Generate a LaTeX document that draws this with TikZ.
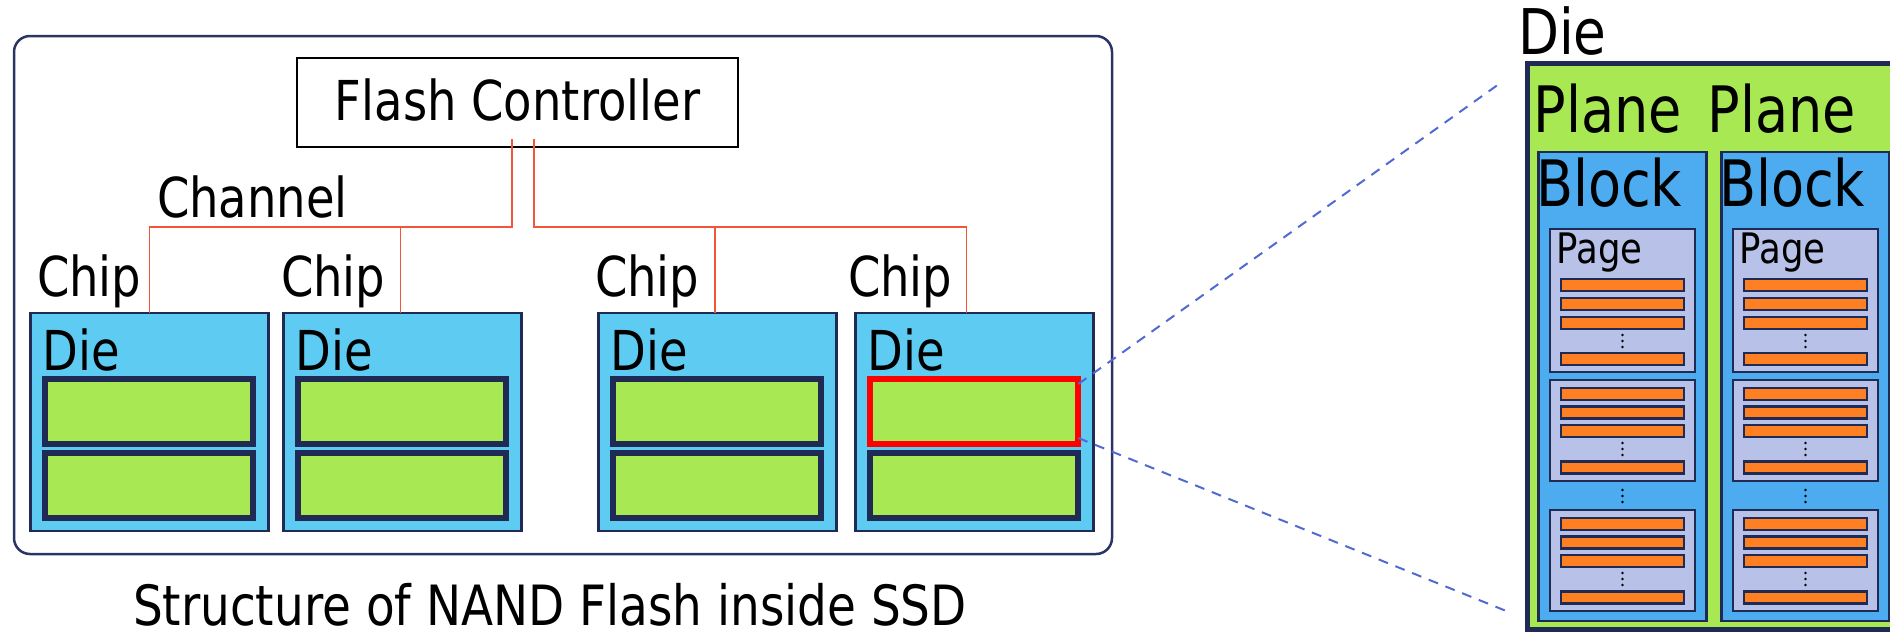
\documentclass[tikz,border=0pt]{standalone}
\usepackage{fontspec}
\setmainfont{DejaVu Sans}[FakeStretch=0.845]

\definecolor{navy}{HTML}{1F2A55}
\definecolor{framenavy}{HTML}{2A3563}
\definecolor{chipblue}{HTML}{5ECBF2}
\definecolor{diegreen}{HTML}{A8E853}
\definecolor{blockblue}{HTML}{4DABF0}
\definecolor{pagelav}{HTML}{B8C2E8}
\definecolor{cellorange}{HTML}{FF8022}
\definecolor{chanred}{HTML}{F2553A}
\definecolor{zoomblue}{HTML}{4F6BD3}

\tikzset{
  lbl/.style={anchor=base west, inner sep=0pt, outer sep=0pt, font=\fontsize{55}{66}\selectfont},
  biglbl/.style={lbl, font=\fontsize{64}{76}\selectfont},
  smalllbl/.style={lbl, font=\fontsize{42}{50}\selectfont},
  rect/.style={rectangle, inner sep=0pt, outer sep=0pt, anchor=north west},
  frame/.style={rect, draw=framenavy, line width=2.5pt, rounded corners=16pt},
  ctrl/.style={rectangle, draw=black, line width=2pt, inner sep=0pt, outer sep=0pt,
    minimum width=441pt, minimum height=89pt, text height=36pt, text depth=0pt,
    font=\fontsize{55}{66}\selectfont},
  chipbox/.style={rect, draw=navy, fill=chipblue, line width=2.5pt,
    minimum width=238pt, minimum height=218pt},
  planebox/.style={rect, draw=#1, fill=diegreen, line width=6pt,
    minimum width=208pt, minimum height=65pt},
  diebox/.style={rect, draw=navy, fill=diegreen, line width=5pt,
    minimum width=400pt, minimum height=566pt},
  blockbox/.style={rect, draw=navy, fill=blockblue, line width=2.5pt,
    minimum width=168pt, minimum height=469pt},
  pagebox/.style={rect, draw=navy, fill=pagelav, line width=2.5pt, minimum width=145pt},
  cellbar/.style={rect, draw=navy, fill=cellorange, line width=2.5pt,
    minimum width=123pt, minimum height=12pt},
  chan/.style={draw=chanred, line width=1.5pt},
  zoomline/.style={draw=zoomblue, line width=2pt, dash pattern=on 10pt off 8pt},
}

\begin{document}
\begin{tikzpicture}[x=1pt, y=-1pt]
\path[use as bounding box] (0,0) rectangle (1890,632);
\clip (0,0) rectangle (1890,632);

% SSD enclosure and its controller
\node[frame, minimum width=1098pt, minimum height=518pt] (ssd) at (14,36) {};
\node[ctrl] (fc) at (517.5,102.5) {Flash Controller};

% chips, each holding one die with two planes
\foreach \c/\cx/\col in {chip1/30.25/navy, chip2/283.25/navy, chip3/598.25/navy, chip4/855.25/red} {
  \node[chipbox] (\c) at (\cx,313) {};
  \node[lbl] (\c-die) at ([shift={(12.5,57)}]\c.north west) {Die};
  \node[planebox=navy] (\c-p2) at ([shift={(15,140)}]\c.north west) {};
  \node[planebox=\col] (\c-p1) at ([shift={(15,66)}]\c.north west) {};
}

\node[lbl] (chip1-lbl) at (37,296) {Chip};
\node[lbl] (chip2-lbl) at (281,296) {Chip};
\node[lbl] (chip3-lbl) at (595,296) {Chip};
\node[lbl] (chip4-lbl) at (848,296) {Chip};
\node[lbl] (chan-lbl) at (157,217) {Channel};

% two channels from the controller, each shared by two chips
\coordinate (tapL) at ([xshift=-5.5pt,yshift=8pt]fc.south);
\coordinate (tapR) at ([xshift=16.5pt,yshift=8pt]fc.south);
\coordinate (busL) at ([yshift=86pt]chip1.north);
\draw[chan] (tapL) |- (busL) -- (chip1.north);
\draw[chan] ([xshift=-2pt]chip2.north |- busL) -- ([xshift=-2pt]chip2.north);
\draw[chan] (tapR) |- ([xshift=-8pt]chip4.north |- busL) -- ([xshift=-8pt]chip4.north);
\draw[chan] ([xshift=-2.5pt]chip3.north |- busL) -- ([xshift=-2.5pt]chip3.north);

% detailed view of one die
\node[lbl, font=\fontsize{63}{75}\selectfont] (detail-lbl) at (1518,54) {Die};
\node[diebox] (detail) at (1527.5,63.5) {};
\node[biglbl] (planeA-lbl) at (1533.7,132) {Plane};
\node[biglbl] (planeB-lbl) at (1707.7,132) {Plane};

\foreach \b/\bx in {blkA/1538.5, blkB/1721.5} {
  \node[blockbox] (\b) at (\bx,152) {};
  \node[biglbl] (\b-lbl) at ([shift={(-2.5,54)}]\b.north west) {Block};
  \node[pagebox, minimum height=143pt] (\b-1) at ([shift={(11.5,77)}]\b.north west) {};
  \node[pagebox, minimum height=101pt] (\b-2) at ([shift={(11.5,228)}]\b.north west) {};
  \node[pagebox, minimum height=101pt] (\b-3) at ([shift={(11.5,358)}]\b.north west) {};
  \node[smalllbl] (\b-pglbl) at ([shift={(6.5,34)}]\b-1.north west) {Page};
  \foreach \p/\offs/\d in {1/{50,69,88,124}/106, 2/{8,26.5,45,81.5}/63, 3/{8,26.5,45,81.5}/63} {
    \foreach \o [count=\k] in \offs {
      \node[cellbar] (\b-\p-\k) at ([shift={(11,\o)}]\b-\p.north west) {};
    }
    \foreach \j in {0,6,12} {
      \fill[black] (\b-\p.north) ++(0,\d+\j) circle (1.4pt);
    }
  }
  \foreach \j in {0,6,12} {
    \fill[black] (\b.north) ++(0,338+\j) circle (1.4pt);
  }
}

% zoom lines from the highlighted plane to the detailed die
\coordinate (zt) at ([shift={(-25,18)}]detail.north west);
\coordinate (zb) at ([shift={(-20,-18)}]detail.south west);
\draw[zoomline] ([yshift=-5pt]chip4-p1.north east) -- (zt);
\draw[zoomline] ([yshift=6pt]chip4-p1.south east) -- (zb);

\node[lbl, font=\fontsize{55.5}{66}\selectfont] (title) at (133,625) {Structure of NAND Flash inside SSD};
\end{tikzpicture}
\end{document}
